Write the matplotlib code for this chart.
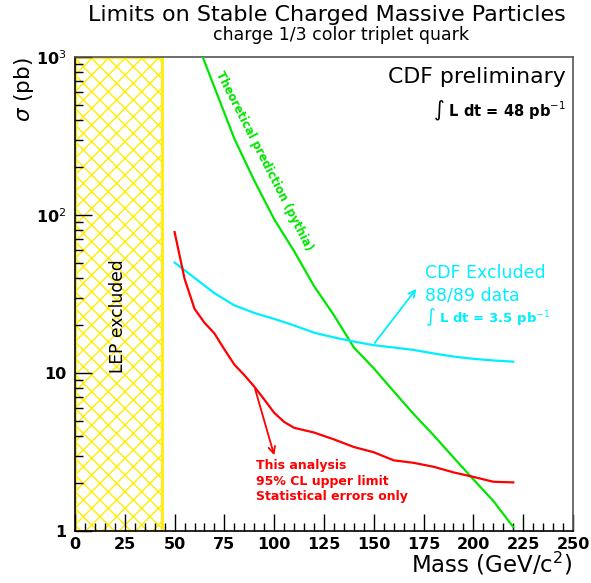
import matplotlib
matplotlib.use("Agg")
import matplotlib.pyplot as plt
from matplotlib.patches import Rectangle
from matplotlib.ticker import FixedLocator, NullFormatter, LogLocator

# ---- data ----
theory_mass = [60, 70, 80, 90, 100, 110, 120, 130, 140, 150, 160, 170, 180, 190, 200, 210, 220]
theory_xsec = [1360, 643, 304, 165, 94, 59, 35.5, 23.2, 14.5, 10.7, 7.65, 5.5, 4.04, 2.92, 2.12, 1.55, 1.06]

cdf_old_mass = [50, 60, 70, 80, 90, 100, 110, 120, 130, 140, 150, 160, 170, 180, 190, 200, 210, 220]
cdf_old_xsec = [50, 40, 32, 26.8, 24, 22, 20, 18, 16.8, 15.8, 15.0, 14.5, 14.0, 13.3, 12.7, 12.3, 12.0, 11.8]

limit_mass = [50, 55, 60, 65, 70, 75, 80, 85, 90, 95, 100, 105, 110, 120, 130, 140, 150, 160, 170, 180, 190, 200, 210, 220]
limit_xsec = [78, 39.5, 25.5, 20.8, 17.8, 14.1, 11.3, 9.7, 8.2, 6.8, 5.6, 4.9, 4.5, 4.2, 3.8, 3.4, 3.15, 2.8, 2.7, 2.55, 2.35, 2.2, 2.05, 2.03]

lep_limit = 43.7
x_ticks = [0, 25, 50, 75, 100, 125, 150, 175, 200, 225, 250]
y_ticks = [1, 10, 100, 1000]
y_ticklabels = ['1', '10', r'10$^{2}$', r'10$^{3}$']

green = '#00e600'
cyan = '#00eeff'
red = '#ff0000'

fig = plt.figure(figsize=(5.91, 5.83), dpi=100)
ax = fig.add_axes([75/591, 1-531/583, (573-75)/591, (531-57)/583])
ax.set_yscale('log')
ax.set_xlim(0, 250)
ax.set_ylim(1, 1000)

def ypx(py):
    return 10**((531-py)/158)

# LEP excluded band
ax.add_patch(Rectangle((0, 1), lep_limit, 999, facecolor='white', edgecolor='#ffee00',
                       hatch='xx', linewidth=2, zorder=1))
ax.text(21.5, ypx(316), 'LEP excluded', rotation=90, ha='center', va='center',
        fontsize=12.3, color='black', zorder=3)

ax.plot(theory_mass, theory_xsec, color=green, lw=1.6, zorder=4)
ax.plot(cdf_old_mass, cdf_old_xsec, color=cyan, lw=1.6, zorder=4)
ax.plot(limit_mass, limit_xsec, color=red, lw=1.6, zorder=4)

# annotations
ax.text(95.0, ypx(161), 'Theoretical prediction (pythia)', rotation=-63, rotation_mode='anchor',
        ha='center', va='center', color=green, fontsize=8.3, fontweight='bold')
ax.annotate('', xy=(100.4, 2.9), xytext=(90.0, 8.25),
            arrowprops=dict(arrowstyle='->', color=red, lw=1.3, mutation_scale=12))
ax.text(90.8, ypx(466), 'This analysis', color=red, fontsize=9, fontweight='bold',
        ha='left', va='center')
ax.text(90.8, ypx(481), '95% CL upper limit', color=red, fontsize=9, fontweight='bold',
        ha='left', va='center')
ax.text(90.8, ypx(496.6), 'Statistical errors only', color=red, fontsize=9, fontweight='bold',
        ha='left', va='center')

ax.annotate('', xy=(172.2, 35.2), xytext=(149.6, 15.0),
            arrowprops=dict(arrowstyle='->', color=cyan, lw=1.3, mutation_scale=12))
ax.text(175.5, ypx(272.7), 'CDF Excluded', color=cyan, fontsize=12.5, ha='left', va='center')
ax.text(175.5, ypx(295), '88/89 data', color=cyan, fontsize=12.5, ha='left', va='center')
ax.text(175.5, ypx(316.7), r'$\int$ L dt = 3.5 pb$^{-1}$', color=cyan, fontsize=9.5,
        fontweight='bold', ha='left', va='center')

ax.text((566-75)/498, (531-76.7)/474, 'CDF preliminary', transform=ax.transAxes,
        ha='right', va='center', fontsize=15.8)
ax.text((566-75)/498, (531-111)/474, r'$\int$ L dt = 48 pb$^{-1}$', transform=ax.transAxes,
        ha='right', va='center', fontsize=10.5, fontweight='bold')

# titles
fig.text(327/591, 1-15/583, 'Limits on Stable Charged Massive Particles', ha='center', va='center', fontsize=16)
fig.text(341/591, 1-35/583, 'charge 1/3 color triplet quark', ha='center', va='center', fontsize=12.5)
fig.text(573/591, 1-564/583, r'Mass (GeV/c$^{2}$)', ha='right', va='center', fontsize=16.5)
fig.text(24/591, 1-90/583, r'$\sigma$ (pb)', ha='center', va='center', fontsize=15.5, rotation=90)

# ticks
ax.xaxis.set_major_locator(FixedLocator(x_ticks))
ax.xaxis.set_minor_locator(FixedLocator([v for v in range(0, 251, 5) if v % 25]))
ax.yaxis.set_major_locator(FixedLocator(y_ticks))
ax.yaxis.set_minor_locator(LogLocator(base=10, subs=range(2, 10)))
ax.yaxis.set_minor_formatter(NullFormatter())
ax.set_yticklabels(y_ticklabels)
ax.tick_params(which='both', direction='in', top=False, right=False)
ax.tick_params(which='major', length=12, width=1, labelsize=11.5)
ax.tick_params(which='minor', length=6, width=1)
ax.tick_params(axis='x', pad=4)
ax.tick_params(axis='y', pad=6)
for lab in ax.get_xticklabels() + ax.get_yticklabels():
    lab.set_fontweight('bold')

for s in ['left', 'bottom']:
    ax.spines[s].set_linewidth(1.2)
    ax.spines[s].set_color('black')
for s in ['top', 'right']:
    ax.spines[s].set_linewidth(1.2)
    ax.spines[s].set_color('#555555')

fig.savefig('out.png', dpi=100)
